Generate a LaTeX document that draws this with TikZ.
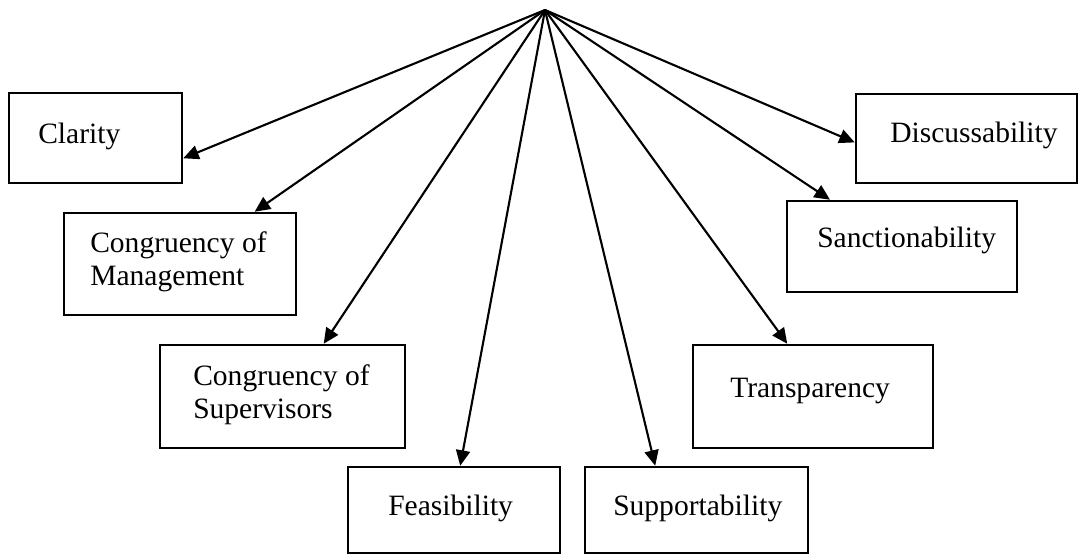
\documentclass[tikz,border=0pt]{standalone}
\usepackage{fontspec}
\setmainfont{Liberation Serif}
\usetikzlibrary{arrows.meta}
\usetikzlibrary{fit}

\begin{document}
\begin{tikzpicture}[x=0.025cm,y=-0.025cm,
box/.style={draw,line width=1.8pt,inner sep=0pt},
lbl/.style={inner sep=0pt,align=left,font=\fontsize{21}{23.5}\selectfont},
arr/.style={-{Triangle[length=11pt,width=10pt]},line width=1.5pt}]
\useasboundingbox(0,0)rectangle(1080,555);
\coordinate(apex)at(545,10);

\node[box,fit={(9,93)(182,183)}](clarity){};
\node[box,fit={(64,213)(296,315)}](congman){};
\node[box,fit={(160,345)(405,448)}](congsup){};
\node[box,fit={(348,467)(560,553)}](feas){};
\node[box,fit={(585,467)(808,553)}](supp){};
\node[box,fit={(693,345)(933,448)}](transp){};
\node[box,fit={(787,201)(1017,292)}](sanct){};
\node[box,fit={(856,94)(1077,183)}](discuss){};

\node[lbl,anchor=base west](claritytxt)at(38,143){Clarity};
\node[lbl,anchor=north west](congmantxt)at(90,231){Congruency of\\Management};
\node[lbl,anchor=north west](congsuptxt)at(193,364){Congruency of\\Supervisors};
\node[lbl,anchor=base west](feastxt)at(388,515){Feasibility};
\node[lbl,anchor=base west](supptxt)at(613,515){Supportability};
\node[lbl,anchor=base west](transptxt)at(730,397){Transparency};
\node[lbl,anchor=base west](sancttxt)at(817,247){Sanctionability};
\node[lbl,anchor=base west](discusstxt)at(890,142){Discussability};

\draw[arr](apex)--(clarity.-13);
\draw[arr](apex)--(congman.35);
\draw[arr](apex)--(congsup.52);
\draw[arr](apex)--(feas.82);
\draw[arr](apex)--(supp.133);
\draw[arr](apex)--(transp.116);
\draw[arr](apex)--(sanct.147);
\draw[arr](apex)--(discuss.182);
\end{tikzpicture}
\end{document}
